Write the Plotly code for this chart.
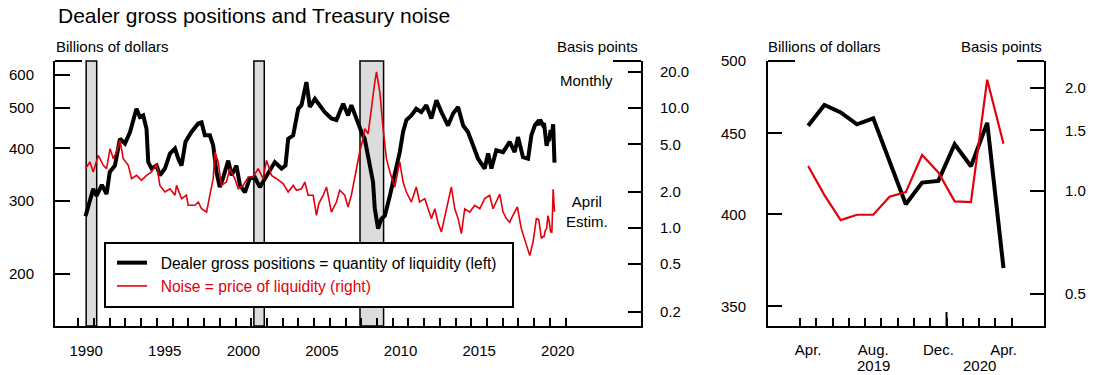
import plotly.graph_objects as go

# ---------------- data ----------------
# Left panel: dealer gross positions (billions of dollars), read at decimal-year dates
dealer_years = [1990.46, 1990.63, 1990.95, 1991.16, 1991.5, 1991.8, 1992.0, 1992.33, 1992.65, 1992.97,
                1993.29, 1993.7, 1993.92, 1994.13, 1994.34, 1994.45, 1994.66, 1994.98, 1995.19, 1995.51,
                1995.83, 1996.15, 1996.36, 1996.57, 1996.82, 1997.2, 1997.63, 1997.84, 1998.05, 1998.37,
                1998.58, 1998.79, 1999.0, 1999.2, 1999.54, 1999.75, 2000.06, 2000.28, 2000.6, 2000.91,
                2001.23, 2001.55, 2001.87, 2002.19, 2002.5, 2002.93, 2003.18, 2003.35, 2003.67, 2003.99,
                2004.2, 2004.51, 2004.73, 2005.05, 2005.37, 2005.68, 2006.1, 2006.42, 2006.85, 2007.16,
                2007.37, 2007.69, 2008.01, 2008.22, 2008.54, 2008.75, 2008.86, 2009.07, 2009.28, 2009.5,
                2009.82, 2010.13, 2010.45, 2010.66, 2010.87, 2011.19, 2011.5, 2011.82, 2012.14, 2012.46,
                2012.78, 2013.1, 2013.2, 2013.52, 2013.84, 2014.16, 2014.48, 2014.79, 2015.11, 2015.43,
                2015.85, 2016.07, 2016.28, 2016.59, 2017.02, 2017.44, 2017.76, 2017.97, 2018.29, 2018.61,
                2018.82, 2019.05, 2019.2]
dealer_values = [275, 292, 320, 308, 327, 311, 351, 364, 422, 411,
                 438, 498, 476, 480, 446, 371, 358, 364, 345, 358,
                 389, 400, 378, 364, 415, 438, 459, 462, 430, 430,
                 407, 351, 323, 339, 374, 345, 364, 327, 314, 339,
                 341, 323, 339, 354, 371, 358, 364, 422, 430, 498,
                 508, 577, 503, 526, 508, 489, 472, 468, 512, 480,
                 508, 468, 438, 422, 358, 332, 287, 257, 271, 276,
                 308, 345, 392, 438, 468, 480, 498, 489, 508, 472,
                 522, 489, 480, 454, 485, 503, 454, 438, 407, 378,
                 358, 389, 358, 396, 392, 415, 392, 426, 381, 378,
                 430, 455, 462]

# Left panel: Treasury noise (basis points)
noise_years = [1990.46, 1990.74, 1990.95, 1991.27, 1991.59, 1991.8, 1992.02, 1992.23, 1992.43, 1992.65,
               1992.86, 1993.18, 1993.39, 1993.71, 1994.02, 1994.34, 1994.66, 1994.98, 1995.19, 1995.51,
               1995.83, 1996.15, 1996.25, 1996.57, 1996.88, 1996.99, 1997.42, 1997.63, 1997.84, 1998.16,
               1998.37, 1998.58, 1998.69, 1998.9, 1999.1, 1999.42, 1999.64, 1999.96, 2000.17, 2000.49,
               2000.81, 2001.13, 2001.44, 2001.76, 2001.97, 2002.29, 2002.61, 2003.03, 2003.35, 2003.67,
               2003.88, 2004.2, 2004.41, 2004.62, 2004.94, 2005.15, 2005.3, 2005.58, 2005.79, 2006.1,
               2006.42, 2006.63, 2006.95, 2007.16, 2007.37, 2007.69, 2007.9, 2008.12, 2008.22, 2008.44,
               2008.65, 2008.86, 2008.97, 2009.18, 2009.39, 2009.6, 2009.82, 2010.13, 2010.45, 2010.66,
               2010.87, 2011.19, 2011.5, 2011.71, 2012.04, 2012.25, 2012.46, 2012.68, 2012.89, 2013.1,
               2013.42, 2013.73, 2013.95, 2014.16, 2014.37, 2014.58, 2014.9, 2015.22, 2015.54, 2015.85,
               2016.17, 2016.38, 2016.81, 2017.02, 2017.23, 2017.44, 2017.65, 2017.93, 2018.18, 2018.5,
               2018.72, 2018.93, 2019.14]
noise_values = [3.13, 3.56, 2.94, 4.04, 3.34, 3.13, 4.59, 3.79, 4.31, 5.39,
                3.79, 3.34, 2.58, 2.75, 2.50, 2.75, 2.94, 3.44, 2.27, 2.00,
                2.13, 1.88, 2.27, 1.76, 1.88, 1.55, 1.55, 1.65, 1.45, 1.36,
                1.88, 2.58, 4.31, 3.56, 2.27, 2.42, 3.13, 2.58, 2.13, 2.27,
                2.67, 2.67, 3.13, 2.58, 3.67, 2.75, 2.58, 2.35, 2.00, 2.27,
                2.07, 2.13, 2.42, 1.88, 1.88, 1.28, 1.60, 1.88, 2.20, 1.36,
                1.65, 2.07, 1.88, 1.50, 1.88, 3.13, 4.31, 5.56, 6.74, 6.12,
                10.5, 16.5, 20.0, 13.6, 6.74, 3.79, 2.94, 2.20, 3.56, 2.42,
                2.00, 1.65, 2.20, 1.65, 1.76, 1.45, 1.20, 1.45, 1.10, 0.93,
                1.45, 2.20, 1.45, 1.20, 0.90, 1.45, 1.36, 1.55, 1.45, 1.76,
                1.88, 1.45, 1.92, 1.36, 1.20, 1.12, 1.28, 1.50, 0.99, 0.72,
                0.59, 0.77, 1.20]

# Right panel: monthly, April 2019 - April 2020
months = ["2019-04", "2019-05", "2019-06", "2019-07", "2019-08", "2019-09", "2019-10",
          "2019-11", "2019-12", "2020-01", "2020-02", "2020-03", "2020-04"]
dealer_monthly = [455, 469, 464, 456, 460, 433, 406, 419, 420, 443, 429, 457, 370]
noise_monthly = [1.18, 0.97, 0.82, 0.85, 0.85, 0.96, 0.99, 1.27, 1.13, 0.93, 0.925, 2.11, 1.37]

recessions = [(1990.5, 1991.17), (2001.17, 2001.83), (2007.92, 2009.42)]

left_tick_years = list(range(1990, 2022))
left_label_years = [1990, 1995, 2000, 2005, 2010, 2015, 2020]
dealer_ticks = [200, 300, 400, 500, 600]
noise_ticks = [0.2, 0.5, 1.0, 2.0, 5.0, 10.0, 20.0]
dealer_ticks_r = [350, 400, 450, 500]
noise_ticks_r = [0.5, 1.0, 1.5, 2.0]
month_labels = {"2019-04": "Apr.", "2019-08": "Aug.", "2019-12": "Dec.", "2020-04": "Apr."}

# ---------------- derived positions ----------------
def month_to_year(m):
    y, mo = m.split("-")
    return int(y) + (int(mo) - 0.5) / 12.0

month_years = [month_to_year(m) for m in months]
xm = [i + 0.5 for i in range(len(months))]   # mid-month positions on right panel

dealer_x = dealer_years + month_years
dealer_y = dealer_values + dealer_monthly
noise_x = noise_years + month_years
noise_y = noise_values + noise_monthly

FONT = "Liberation Sans, Arial, sans-serif"
BLACK = "#000000"
RED = "#e3000b"

# the page body margin is removed (post_script below), so the figure fills the window
W, H = 1100, 375
def px(x):
    return x / W
def py(y):
    return 1 - y / H

Y_DOM = [py(326), py(61)]
X_DOM_L = [px(55), px(641)]
X_DOM_R = [px(768), px(1044)]

NB = "\u00a0"
fig = go.Figure()

fig.add_trace(go.Scatter(x=dealer_x, y=dealer_y, mode="lines", xaxis="x", yaxis="y",
                         line=dict(color=BLACK, width=4),
                         name=NB * 2 + "Dealer gross positions = quantity of liquidity (left)"))
fig.add_trace(go.Scatter(x=noise_x, y=noise_y, mode="lines", xaxis="x", yaxis="y2",
                         line=dict(color=RED, width=1.6),
                         name=NB * 2 + '<span style="color:#e3000b">Noise = price of liquidity (right)</span>'))
fig.add_trace(go.Scatter(x=xm, y=dealer_monthly, mode="lines", xaxis="x2", yaxis="y3",
                         line=dict(color=BLACK, width=4), showlegend=False))
fig.add_trace(go.Scatter(x=xm, y=noise_monthly, mode="lines", xaxis="x2", yaxis="y4",
                         line=dict(color=RED, width=2.2), showlegend=False))

axis_common = dict(showgrid=False, zeroline=False, showline=True, linecolor=BLACK, linewidth=2,
                   tickcolor=BLACK, tickwidth=2, automargin=False,
                   tickfont=dict(family=FONT, size=15, color=BLACK))

left_label_pos = [y + 0.5 for y in left_label_years]
fig.update_layout(
    xaxis=dict(domain=X_DOM_L, anchor="y", range=[1988.518, 2025.795], ticks="",
               tickmode="array", tickvals=left_label_pos, ticktext=[str(y) for y in left_label_years],
               ticklabelstandoff=10,
               minor=dict(tickmode="array", tickvals=left_tick_years, ticks="inside", ticklen=8,
                          tickwidth=2, tickcolor=BLACK, showgrid=False),
               **axis_common),
    yaxis=dict(domain=Y_DOM, anchor="x", type="log", range=[2.1763, 2.8118], ticks="inside",
               ticklen=15, tickmode="array", tickvals=dealer_ticks,
               ticktext=[str(v) for v in dealer_ticks], ticklabelstandoff=16, **axis_common),
    yaxis2=dict(domain=Y_DOM, anchor="x", overlaying="y", side="right", type="log",
                range=[-0.8157, 1.3927], ticks="inside", ticklen=13, tickmode="array",
                tickvals=noise_ticks, ticktext=[f"{v:.1f}" for v in noise_ticks],
                ticklabelstandoff=14, **axis_common),
    xaxis2=dict(domain=X_DOM_R, anchor="y3", range=[-1.966, 14.988], ticks="",
                tickmode="array", tickvals=[i + 0.5 for i, m in enumerate(months) if m in month_labels],
                ticktext=[month_labels[m] for m in months if m in month_labels],
                ticklabelstandoff=9,
                minor=dict(tickmode="array", tickvals=list(range(len(months) + 1)), ticks="inside",
                           ticklen=8, tickwidth=2, tickcolor=BLACK, showgrid=False),
                **axis_common),
    yaxis3=dict(domain=Y_DOM, anchor="x2", type="log", range=[2.5316, 2.69897], ticks="inside",
                ticklen=14, tickmode="array", tickvals=dealer_ticks_r,
                ticktext=[str(v) for v in dealer_ticks_r], ticklabelstandoff=17, **axis_common),
    yaxis4=dict(domain=Y_DOM, anchor="x2", overlaying="y3", side="right", type="log",
                range=[-0.3957, 0.3788], ticks="inside", ticklen=14, tickmode="array",
                tickvals=noise_ticks_r, ticktext=[f"{v:.1f}" for v in noise_ticks_r],
                ticklabelstandoff=16, **axis_common),
)

shapes = []
for s, e in recessions:
    shapes.append(dict(type="rect", xref="x", yref="y domain", x0=s, x1=e, y0=0, y1=1,
                       fillcolor="#dcdcdc", line=dict(color=BLACK, width=1.5), layer="below"))
# white, black-edged box behind the legend entries
shapes.append(dict(type="rect", xref="paper", yref="paper", x0=px(105), x1=px(513),
                   y0=py(307), y1=py(243), fillcolor="white", line=dict(color=BLACK, width=2),
                   layer="below"))
# top stubs of the open frames
for x0, x1 in [(55, 82), (613, 641), (768, 795), (1017, 1044)]:
    shapes.append(dict(type="line", xref="paper", yref="paper", x0=px(x0), x1=px(x1),
                       y0=Y_DOM[1], y1=Y_DOM[1], line=dict(color=BLACK, width=2)))
# long tick at the year boundary on the right panel
jan_idx = months.index("2020-01")
shapes.append(dict(type="line", xref="x2", yref="paper", x0=jan_idx, x1=jan_idx,
                   y0=Y_DOM[0], y1=Y_DOM[0] + 14 / H, line=dict(color=BLACK, width=2)))

ann_font = dict(family=FONT, size=15, color=BLACK)
annotations = [
    dict(text="Dealer gross positions and Treasury noise", x=px(56), y=py(15.5), xanchor="left",
         yanchor="middle", font=dict(family=FONT, size=21, color=BLACK)),
    dict(text="Billions of dollars", x=px(54), y=py(46), xanchor="left", yanchor="middle"),
    dict(text="Basis points", x=px(640), y=py(46), xanchor="right", yanchor="middle"),
    dict(text="Billions of dollars", x=px(766), y=py(46), xanchor="left", yanchor="middle"),
    dict(text="Basis points", x=px(1044), y=py(46), xanchor="right", yanchor="middle"),
    dict(text="Monthly", x=px(586), y=py(81), xanchor="center", yanchor="middle"),
    dict(text="April<br>Estim.", x=px(587), y=py(211), xanchor="center", yanchor="middle"),
]
for a in annotations:
    a.setdefault("font", ann_font)
    a.update(xref="paper", yref="paper", showarrow=False)

# year labels under the right panel, centred on each year's span
for yr in ["2019", "2020"]:
    idx = [i for i, m in enumerate(months) if m.startswith(yr)]
    annotations.append(dict(text=yr, x=(idx[0] + idx[-1] + 1) / 2, xref="x2", y=py(365), yref="paper",
                            xanchor="center", yanchor="middle", showarrow=False, font=ann_font))

fig.update_layout(
    width=W, height=H, margin=dict(l=0, r=0, t=0, b=0, autoexpand=False),
    paper_bgcolor="white", plot_bgcolor="white",
    font=dict(family=FONT, size=15, color=BLACK),
    shapes=shapes, annotations=annotations,
    legend=dict(x=px(112), y=py(246), xanchor="left", yanchor="top", bgcolor="rgba(0,0,0,0)",
                borderwidth=0, font=dict(family=FONT, size=15.6, color=BLACK),
                tracegroupgap=0),
    showlegend=True,
)

fig.write_html("out.html", config={"displayModeBar": False},
               post_script="document.body.style.margin='0';document.body.style.overflow='hidden';")
